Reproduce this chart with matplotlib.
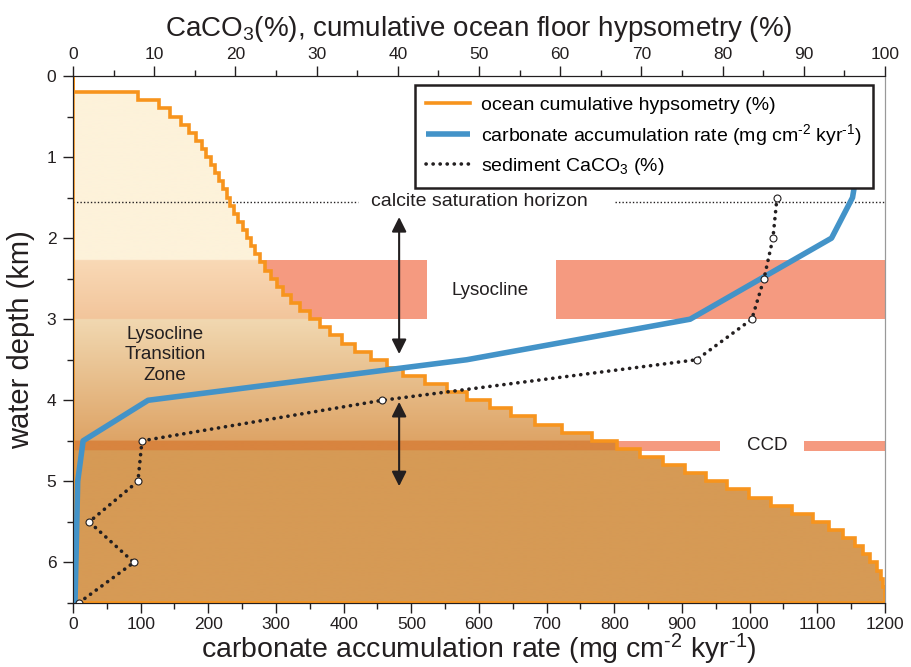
import matplotlib
matplotlib.use("Agg")
import matplotlib.pyplot as plt
import numpy as np
from matplotlib.colors import to_rgb
from matplotlib.patches import Polygon
from matplotlib.ticker import MultipleLocator

plt.rcParams['font.family'] = ['Liberation Sans', 'DejaVu Sans']
plt.rcParams['mathtext.fontset'] = 'custom'
plt.rcParams['mathtext.rm'] = 'Liberation Sans'
plt.rcParams['mathtext.it'] = 'Liberation Sans:italic'
plt.rcParams['mathtext.bf'] = 'Liberation Sans:bold'

# cumulative ocean floor hypsometry (%), one value per 0.1 km depth bin (0 - 6.5 km)
hyps_edges = np.round(np.arange(0, 6.51, 0.1), 2)
hyps_pct = [0, 0, 8.0, 10.6, 12.0, 13.3, 14.3, 15.1, 15.9, 16.4,
            17.0, 17.5, 18.0, 18.5, 19.0, 19.3, 19.8, 20.3, 20.9, 21.4,
            21.9, 22.4, 23.0, 23.6, 24.4, 25.1, 25.9, 26.9, 28.0, 29.2,
            30.4, 31.7, 33.1, 34.7, 36.7, 38.7, 40.7, 43.3, 46.0, 48.5,
            51.4, 54.0, 56.9, 60.2, 63.9, 67.0, 69.8, 72.6, 75.4, 78.0,
            80.6, 83.3, 85.9, 88.6, 91.1, 93.1, 94.8, 96.3, 97.3, 98.2,
            99.0, 99.5, 99.8, 100, 100]

# carbonate accumulation rate (mg cm-2 kyr-1)
rate_depth = [1.25, 1.5, 2.0, 3.0, 3.5, 4.0, 4.5, 5.0, 6.5]
rate_val = [1157, 1152, 1121, 912, 582, 111, 15, 7, 3]

# sediment CaCO3 (%)
caco3_depth = [1.5, 2.0, 2.5, 3.0, 3.5, 4.0, 4.5, 5.0, 5.5, 6.0, 6.5]
caco3_pct = [86.7, 86.2, 85.1, 83.6, 76.8, 38.1, 8.5, 8.0, 2.0, 7.5, 0.7]

sat_depth = 1.55          # calcite saturation horizon
lyso_top, lyso_bot = 2.27, 3.0
ccd_top, ccd_bot = 4.5, 4.62

orange = '#f7941d'
blue = '#4393c8'
salmon = '#f59a80'
ink = '#231f20'

fig = plt.figure(figsize=(9.12, 6.67), dpi=100)
ax = fig.add_axes([0.080, 0.096, 0.8904, 0.7901])
ax2 = ax.twiny()

# salmon bands (behind the hypsometry fill)
ax.fill_betweenx([lyso_top, lyso_bot], 0, 523, color=salmon, lw=0, zorder=1)
ax.fill_betweenx([lyso_top, lyso_bot], 714, 1200, color=salmon, lw=0, zorder=1)
ax.fill_betweenx([ccd_top, ccd_bot], 0, 956, color=salmon, lw=0, zorder=1)
ax.fill_betweenx([ccd_top, ccd_bot], 1080, 1200, color=salmon, lw=0, zorder=1)

# gradient fill under the hypsometry curve
zones = [(0.0, lyso_top, '#fdf2da', '#fdf2da'),
         (lyso_top, lyso_bot, '#f9d9b6', '#f2c59b'),
         (lyso_bot, ccd_top, '#f1d8b1', '#dea466'),
         (ccd_top, ccd_bot, '#d8843f', '#d8843f'),
         (ccd_bot, 6.5, '#d69a55', '#d69a55')]
d = np.linspace(0, 6.5, 1301)
img = np.ones((len(d), 1, 3))
for top, bot, c0, c1 in zones:
    m = (d >= top) & (d <= bot)
    t = ((d[m] - top) / (bot - top))[:, None]
    img[m, 0, :] = (1 - t) * np.array(to_rgb(c0)) + t * np.array(to_rgb(c1))
im = ax.imshow(img, extent=(0, 1200, 6.5, 0), aspect='auto', zorder=2,
               interpolation='bilinear')

xs = np.repeat(hyps_pct, 2)
ys = np.repeat(hyps_edges, 2)[1:-1]
outline_x = np.concatenate([[0], xs, [0, 0]])
outline_y = np.concatenate([[0], ys, [6.5, 0]])
poly = Polygon(np.column_stack([outline_x, outline_y]), closed=True,
               transform=ax2.transData)
im.set_clip_path(poly)

# calcite saturation horizon
ax.plot([0, 421], [sat_depth, sat_depth], color=ink, lw=1, ls=(0, (1, 1.5)), zorder=3)
ax.plot([801, 1200], [sat_depth, sat_depth], color=ink, lw=1, ls=(0, (1, 1.5)), zorder=3)
ax.text(600, sat_depth, 'calcite saturation horizon', ha='center', va='center',
        fontsize=14, color=ink, zorder=3)

l_hyps, = ax.plot(outline_x, outline_y, color=orange, lw=2.6, zorder=4,
                  transform=ax2.transData, solid_joinstyle='miter')
l_rate, = ax.plot(rate_val, rate_depth, color=blue, lw=4, zorder=5,
                  solid_capstyle='butt')
l_caco3, = ax.plot(caco3_pct, caco3_depth, color=ink, lw=2.6, ls=(0, (0.05, 1.9)),
                   dash_capstyle='round', zorder=6, transform=ax2.transData)
ax.plot(caco3_pct, caco3_depth, ls='none', marker='o', ms=5, mfc='white',
        mec=ink, mew=0.8, zorder=7, transform=ax2.transData)

# arrows
arrow_x = 482
for y0, y1 in [(1.74, 3.43), (4.02, 5.06)]:
    ax.annotate('', xy=(arrow_x, y0), xytext=(arrow_x, y1),
                arrowprops=dict(arrowstyle='<|-|>', color=ink, lw=1.5,
                                mutation_scale=22, shrinkA=0, shrinkB=0),
                zorder=8)

ax.text(616, 2.65, 'Lysocline', ha='center', va='center', fontsize=13.5,
        color=ink, zorder=8)
ax.text(1026, 4.56, 'CCD', ha='center', va='center', fontsize=13.5,
        color=ink, zorder=8)
ax.text(136, 3.44, 'Lysocline\nTransition\nZone', ha='center', va='center',
        fontsize=13.5, color=ink, linespacing=1.25, zorder=8)

leg = ax.legend([l_hyps, l_rate, l_caco3],
                ['ocean cumulative hypsometry (%)',
                 r'carbonate accumulation rate (mg cm$^{\text{-2}}$ kyr$^{\text{-1}}$)',
                 'sediment CaCO$_3$ (%)'],
                loc='upper right', bbox_to_anchor=(0.992, 0.993),
                prop={'size': 14},
                frameon=True, fancybox=False, edgecolor=ink, framealpha=1,
                handlelength=2.3, handletextpad=0.55, labelspacing=0.42,
                borderpad=0.55, borderaxespad=0.3)
leg.get_frame().set_linewidth(1.8)
leg.set_zorder(10)

ax.set_xlim(0, 1200)
ax.set_ylim(6.5, 0)
ax2.set_xlim(0, 100)

ax.xaxis.set_major_locator(MultipleLocator(100))
ax.xaxis.set_minor_locator(MultipleLocator(50))
ax.yaxis.set_major_locator(MultipleLocator(1))
ax.yaxis.set_minor_locator(MultipleLocator(0.5))
ax2.xaxis.set_major_locator(MultipleLocator(10))
ax2.xaxis.set_minor_locator(MultipleLocator(5))

for a in (ax, ax2):
    a.tick_params(which='both', direction='out', colors=ink, labelsize=12.5, width=1)
    a.tick_params(which='major', length=7)
    a.tick_params(which='minor', length=4)
ax.tick_params(axis='x', pad=3)
ax.tick_params(axis='y', pad=5)
ax2.tick_params(axis='x', pad=3)

for a in (ax, ax2):
    for side in ('left', 'bottom', 'top'):
        a.spines[side].set_color(ink)
    a.spines['right'].set_color('#999999')

ax.set_xlabel(r'carbonate accumulation rate (mg cm$^{\text{-2}}$ kyr$^{\text{-1}}$)',
              fontsize=20.5, labelpad=0, color=ink)
ax2.set_xlabel('CaCO$_3$(%), cumulative ocean floor hypsometry (%)', fontsize=20,
               labelpad=8, color=ink)
ax.set_ylabel('water depth (km)', fontsize=21, labelpad=8, color=ink)

fig.savefig('out.png', dpi=100)
